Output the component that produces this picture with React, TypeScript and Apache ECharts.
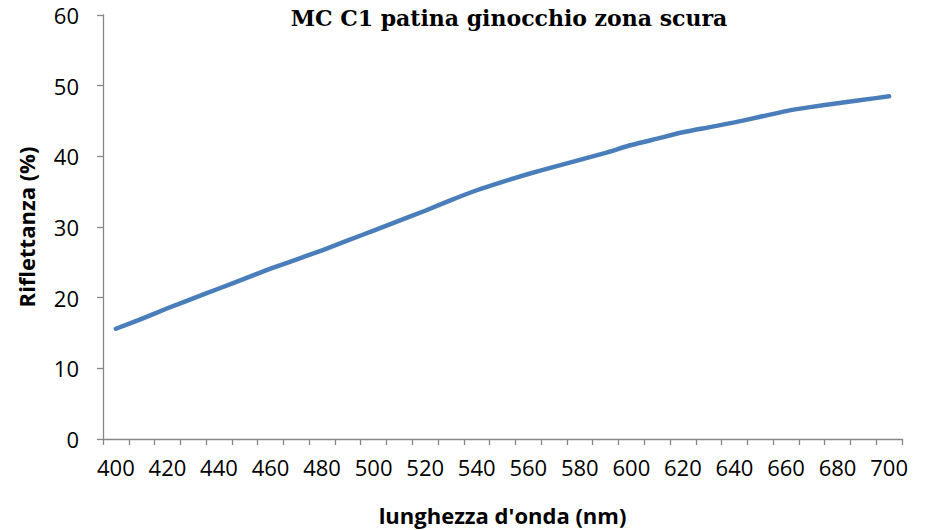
import React, { useEffect, useRef } from "react";
import * as echarts from "echarts";

const wavelengths = [
  "400", "410", "420", "430", "440", "450", "460", "470", "480", "490",
  "500", "510", "520", "530", "540", "550", "560", "570", "580", "590",
  "600", "610", "620", "630", "640", "650", "660", "670", "680", "690", "700",
];
const reflectance = [
  15.6, 17.0, 18.5, 19.9, 21.3, 22.7, 24.1, 25.4, 26.7, 28.1,
  29.5, 30.9, 32.3, 33.8, 35.2, 36.4, 37.5, 38.5, 39.5, 40.5,
  41.6, 42.5, 43.4, 44.1, 44.8, 45.6, 46.4, 47.0, 47.5, 48.0, 48.5,
];
const yTicks = { min: 0, max: 60, interval: 10 };
const titleText = "MC C1 patina ginocchio zona scura";
const xName = "lunghezza d'onda (nm)";
const yName = "Riflettanza (%)";

export default function App() {
  const ref = useRef<HTMLDivElement>(null);
  useEffect(() => {
    if (!ref.current) return;
    const chart = echarts.init(ref.current, undefined, { renderer: "svg" });
    const axisColor = "#868686";
    const font = "'Open Sans', 'Liberation Sans', sans-serif";
    chart.setOption({
      animation: false,
      backgroundColor: "#ffffff",
      title: {
        text: titleText,
        left: 504,
        top: 2,
        textAlign: "center",
        textStyle: {
          fontFamily: "'DejaVu Serif', 'Liberation Serif', serif",
          fontWeight: "bold",
          fontSize: 22,
          color: "#000",
        },
      },
      grid: { left: 103, right: 27, top: 15, bottom: 91, containLabel: false, outerBoundsMode: "none" },
      xAxis: {
        type: "category",
        data: wavelengths,
        boundaryGap: true,
        name: xName,
        nameLocation: "middle",
        nameGap: 65,
        nameMoveOverlap: false,
        nameTextStyle: { fontFamily: font, fontWeight: "bold", fontSize: 22, color: "#000" },
        axisLine: { lineStyle: { color: axisColor, width: 1.3 } },
        axisTick: { show: true, interval: 0, length: 6, lineStyle: { color: axisColor, width: 1.3 } },
        axisLabel: { interval: 1, margin: 17, fontFamily: font, fontSize: 22, color: "#000" },
        splitLine: { show: false },
      },
      yAxis: {
        type: "value",
        min: yTicks.min,
        max: yTicks.max,
        interval: yTicks.interval,
        name: yName,
        nameLocation: "middle",
        nameGap: 66,
        nameRotate: 90,
        nameMoveOverlap: false,
        nameTextStyle: { fontFamily: font, fontWeight: "bold", fontSize: 22, color: "#000" },
        axisLine: { show: true, lineStyle: { color: axisColor, width: 1.3 } },
        axisTick: { show: true, length: 6, lineStyle: { color: axisColor, width: 1.3 } },
        axisLabel: { margin: 24, fontFamily: font, fontSize: 22, color: "#000" },
        splitLine: { show: false },
      },
      series: [
        {
          type: "line",
          data: reflectance,
          showSymbol: false,
          symbol: "none",
          smooth: 0.2,
          lineStyle: { color: "#4A7EBB", width: 4.5, cap: "round", join: "round" },
        },
      ],
    });
    return () => chart.dispose();
  }, []);
  return <div ref={ref} style={{ width: 929, height: 530, position: "absolute", left: 0, top: 0 }} />;
}
